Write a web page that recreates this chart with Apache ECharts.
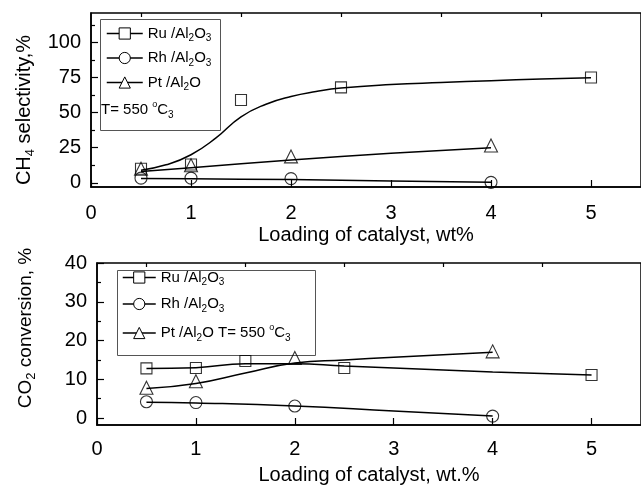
<!DOCTYPE html>
<html><head><meta charset="utf-8">
<script src="https://cdn.jsdelivr.net/npm/echarts@6/dist/echarts.min.js"></script>
<style>html,body{margin:0;padding:0;background:#fff}#c{width:641px;height:486px}</style>
</head><body><div id="c"></div>
<script>
// ---------- data ----------
const catalysts = ['Ru /Al2O3', 'Rh /Al2O3', 'Pt /Al2O'];
const xMajorTicks = [0, 1, 2, 3, 4, 5];
const xMinorTicks = [0.5, 1.5, 2.5, 3.5, 4.5];
const selMajorTicks = [0, 25, 50, 75, 100];
const selMinorTicks = [12.5, 37.5, 62.5, 87.5, 112.5];
const convMajorTicks = [0, 10, 20, 30, 40];
const convMinorTicks = [5, 15, 25, 35];

// Top panel: CH4 selectivity, % (measured points)
const ruSelX = [0.5, 1, 1.5, 2.5, 5];
const ruSel  = [10, 13, 59, 68, 75];
const rhSelX = [0.5, 1, 2, 4];
const rhSel  = [3.3, 3.3, 3.0, 0.3];
const ptSelX = [0.5, 1, 2, 4];
const ptSel  = [10, 12.5, 18.8, 26.6];
// Top panel fitted curves
const ruSelFitX = [0.5, 0.75, 1, 1.25, 1.5, 1.75, 2, 2.25, 2.5, 3, 3.5, 4, 4.5, 5];
const ruSelFit  = [9, 12.8, 20, 32, 47, 56, 61.5, 65, 67.5, 70, 71.5, 72.8, 73.9, 74.8];
const rhSelFitX = [0.5, 1, 2, 3, 4];
const rhSelFit  = [3.0, 2.8, 2.3, 1.3, 0.3];
const ptSelFitX = [0.5, 1, 2, 3, 4];
const ptSelFit  = [8, 10.8, 16.3, 21, 25];

// Bottom panel: CO2 conversion, % (measured points)
const ruConvX = [0.5, 1, 1.5, 2.5, 5];
const ruConv  = [12.8, 12.9, 14.7, 12.9, 11.1];
const rhConvX = [0.5, 1, 2, 4];
const rhConv  = [4.2, 4.0, 3.1, 0.5];
const ptConvX = [0.5, 1, 2, 4];
const ptConv  = [7.8, 9.5, 15.5, 17.2];
// Bottom panel fitted curves
const ruConvFitX = [0.5, 1, 1.5, 2, 2.5, 3, 3.5, 4, 4.5, 5];
const ruConvFit  = [12.8, 13.0, 14.0, 14.0, 13.4, 12.9, 12.4, 11.9, 11.5, 11.1];
const rhConvFitX = [0.5, 1, 2, 3, 4];
const rhConvFit  = [4.1, 3.9, 3.1, 1.8, 0.5];
const ptConvFitX = [0.5, 1, 1.5, 2, 2.5, 3, 4];
const ptConvFit  = [7.6, 8.9, 11.6, 14.2, 15.0, 15.7, 17.0];

// ---------- chart ----------
const FONT = 'Liberation Sans, Arial, sans-serif';
const zip = (xs, ys) => xs.map((x, i) => [x, ys[i]]);
const symbols = ['rect', 'circle', 'triangle'];
const symSizes = [11, 12, 13];

const subRich = {
  sub: { fontSize: 10, fontFamily: FONT, color: '#000', verticalAlign: 'bottom', padding: [10, 0, 0, 0] },
  sup: { fontSize: 9, fontFamily: FONT, color: '#000', verticalAlign: 'top', padding: [0, 0, 10, 0] }
};
const fmtName = n => n.replace('Al2O3', 'Al{sub|2}O{sub|3}').replace(/Al2O$/, 'Al{sub|2}O');

function xAxes(grid) {
  return [{
    type: 'value', gridIndex: grid, min: 0, max: 5.5,
    axisLine: { onZero: false, lineStyle: { color: '#000', width: 1.5 } },
    axisTick: { inside: true, length: 7, customValues: xMajorTicks, lineStyle: { color: '#000', width: 1.2 } },
    axisLabel: { customValues: xMajorTicks, fontSize: 20, color: '#000', fontFamily: FONT, margin: grid === 0 ? 16 : 14 },
    splitLine: { show: false },
    name: grid === 0 ? 'Loading of catalyst, wt%' : 'Loading of catalyst, wt.%',
    nameLocation: 'middle', nameGap: grid === 0 ? 38 : 40,
    nameTextStyle: { fontSize: 20, color: '#000', fontFamily: FONT }
  }, {
    type: 'value', gridIndex: grid, min: 0, max: 5.5,
    axisLine: { show: false, onZero: false },
    axisTick: { inside: true, length: 4, customValues: xMinorTicks, lineStyle: { color: '#000', width: 1.2 } },
    axisLabel: { show: false }, splitLine: { show: false }
  }];
}
function yAxes(grid, min, max, major, minor, name, gap, pad, fs) {
  return [{
    type: 'value', gridIndex: grid, min: min, max: max, position: 'left',
    axisLine: { onZero: false, lineStyle: { color: '#000', width: 1.5 } },
    axisTick: { inside: true, length: 7, customValues: major, lineStyle: { color: '#000', width: 1.2 } },
    axisLabel: { customValues: major, fontSize: 20, color: '#000', fontFamily: FONT, margin: 10 },
    splitLine: { show: false },
    name: name, nameLocation: 'middle', nameGap: gap, nameRotate: 90,
    nameTextStyle: { fontSize: fs, color: '#000', fontFamily: FONT, padding: pad,
      rich: { sub: { fontSize: 13, fontFamily: FONT, color: '#000', verticalAlign: 'bottom', padding: [12, 0, 0, 0] } } }
  }, {
    type: 'value', gridIndex: grid, min: min, max: max, position: 'left',
    axisLine: { show: false, onZero: false },
    axisTick: { inside: true, length: 4, customValues: minor, lineStyle: { color: '#000', width: 1.2 } },
    axisLabel: { show: false }, splitLine: { show: false }
  }];
}

const series = [];
function addPanel(xi, yi, fits, pts) {
  catalysts.forEach((name, i) => {
    series.push({
      type: 'line', name: name, xAxisIndex: xi, yAxisIndex: yi,
      data: fits[i], smooth: true, showSymbol: false, symbol: symbols[i],
      lineStyle: { color: '#000', width: 1.5 }, itemStyle: { color: '#000' },
      silent: true, z: 2
    });
    series.push({
      type: 'scatter', name: name, xAxisIndex: xi, yAxisIndex: yi,
      data: pts[i], symbol: symbols[i], symbolSize: symSizes[i],
      itemStyle: { color: 'rgba(255,255,255,0)', borderColor: '#000', borderWidth: 1.1 },
      z: 3
    });
  });
}
addPanel(0, 0,
  [zip(ruSelFitX, ruSelFit), zip(rhSelFitX, rhSelFit), zip(ptSelFitX, ptSelFit)],
  [zip(ruSelX, ruSel), zip(rhSelX, rhSel), zip(ptSelX, ptSel)]);
addPanel(2, 2,
  [zip(ruConvFitX, ruConvFit), zip(rhConvFitX, rhConvFit), zip(ptConvFitX, ptConvFit)],
  [zip(ruConvX, ruConv), zip(rhConvX, rhConv), zip(ptConvX, ptConv)]);

const legendCommon = {
  orient: 'vertical', padding: 0, itemHeight: 14, selectedMode: false,
  itemStyle: { color: '#fff', borderColor: '#000', borderWidth: 1 },
  lineStyle: { color: '#000', width: 1.5 },
  textStyle: { fontSize: 15, color: '#000', fontFamily: FONT, rich: subRich }
};

const chart = echarts.init(document.getElementById('c'), null, { renderer: 'canvas' });
chart.setOption({
  backgroundColor: '#fff',
  animation: false,
  grid: [
    { left: 91, top: 13, width: 551, height: 174, show: true, borderColor: '#000', borderWidth: 1.5 },
    { left: 97, top: 263, width: 551, height: 164, show: true, borderColor: '#000', borderWidth: 1.5 }
  ],
  xAxis: [...xAxes(0), ...xAxes(1)],
  yAxis: [
    ...yAxes(0, -3, 121, selMajorTicks, selMinorTicks, 'CH{sub|4} selectivity,%', 49, [0, 20, 0, 0], 20),
    ...yAxes(1, -1.8, 40, convMajorTicks, convMinorTicks, 'CO{sub|2} conversion, %', 59, [0, 0, 0, 32], 19)
  ],
  legend: [
    Object.assign({}, legendCommon, {
      data: catalysts, left: 106, top: 26, itemWidth: 36, itemGap: 7,
      formatter: n => fmtName(n)
    }),
    Object.assign({}, legendCommon, {
      data: catalysts, left: 122, top: 270, itemWidth: 33, itemGap: 9,
      formatter: n => (n === 'Pt /Al2O' ? fmtName(n) + ' T= 550 {sup|o}C{sub|3}' : fmtName(n))
    })
  ],
  graphic: [
    { type: 'rect', left: 98, top: 17, shape: { width: 120, height: 111 },
      style: { fill: 'none', stroke: '#555', lineWidth: 1 }, z: 1 },
    { type: 'rect', left: 115, top: 268, shape: { width: 198, height: 85 },
      style: { fill: 'none', stroke: '#555', lineWidth: 1 }, z: 1 },
    { type: 'text', left: 101, top: 100, z: 5,
      style: { text: 'T= 550 {sup|o}C{sub|3}', fontSize: 15, fontFamily: FONT, fill: '#000', rich: subRich } }
  ],
  series: series
});
</script></body></html>
